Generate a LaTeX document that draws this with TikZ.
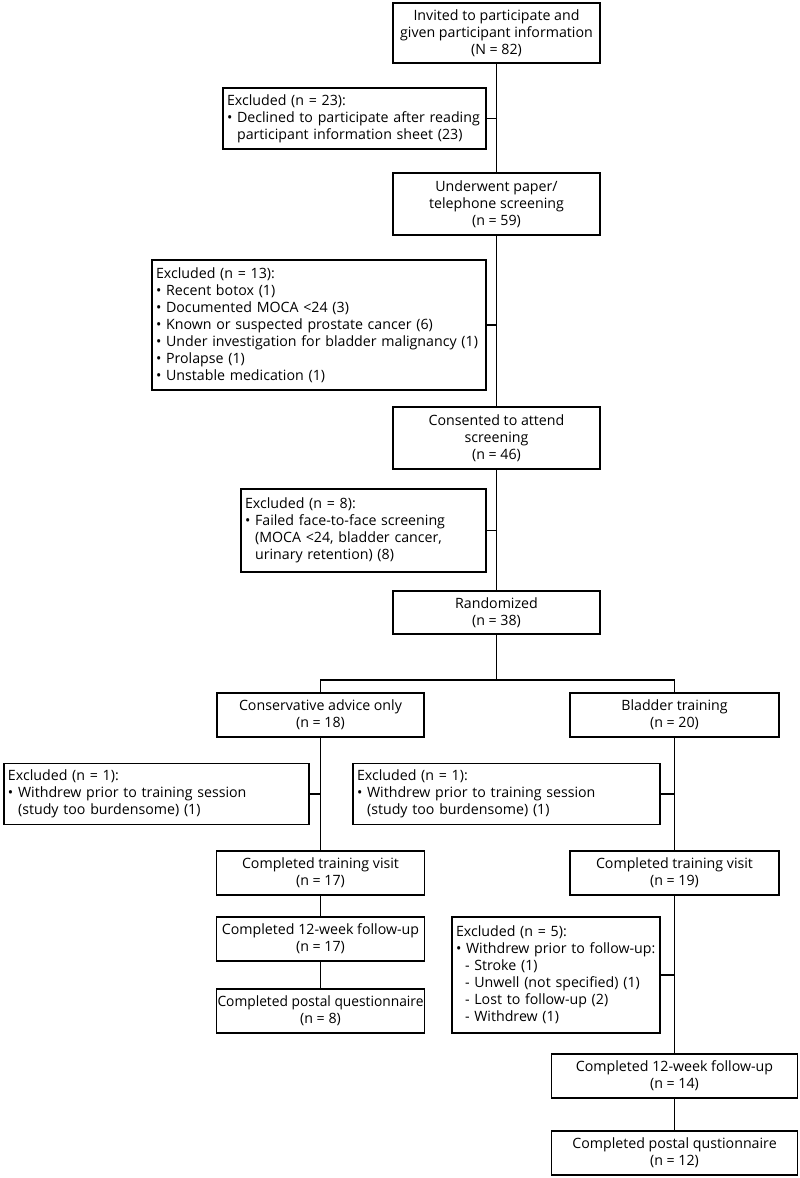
\documentclass[tikz,border=0pt]{standalone}
\usepackage{fontspec}
\setmainfont{Open Sans}
\begin{document}
\begin{tikzpicture}[x=1pt,y=-1pt,
  every node/.style={font=\fontsize{14.2}{17}\selectfont},
  mbox/.style={draw,line width=1.2pt,inner sep=0pt,align=center},
  xbox/.style={draw,line width=1.2pt,inner xsep=4pt,inner ysep=0pt,align=left},
  conn/.style={line width=1.2pt}]
\useasboundingbox (0,0) rectangle (800,1178);
\newcommand{\bul}{\textbullet\ }
\newcommand{\ind}{\phantom{\textbullet\ }}
% main column
\node[mbox,minimum width=207,minimum height=60] (b1) at (496.5,33) {Invited to participate and\\given participant information\\(N = 82)};
\node[xbox,text width=255,minimum height=61] (e23) at (354.5,118.5) {Excluded (n = 23):\\\bul Declined to participate after reading\\\ind participant information sheet (23)};
\node[mbox,minimum width=207,minimum height=62] (b2) at (496.5,204) {Underwent paper/\\telephone screening\\(n = 59)};
\node[xbox,text width=326,minimum height=130] (e13) at (319,325) {Excluded (n = 13):\\\bul Recent botox (1)\\\bul Documented MOCA <24 (3)\\\bul Known or suspected prostate cancer (6)\\\bul Under investigation for bladder malignancy (1)\\\bul Prolapse (1)\\\bul Unstable medication (1)};
\node[mbox,minimum width=207,minimum height=62] (b3) at (496.5,438) {Consented to attend\\screening\\(n = 46)};
\node[xbox,text width=237,minimum height=83] (e8) at (363.5,530.5) {Excluded (n = 8):\\\bul Failed face-to-face screening\\\ind (MOCA <24, bladder cancer,\\\ind urinary retention) (8)};
\node[mbox,minimum width=207,minimum height=43] (rand) at (496.5,612.5) {Randomized\\(n = 38)};
\coordinate (br) at (496.5,680);
% arms
\node[mbox,minimum width=207,minimum height=44] (cons) at (320.5,715) {Conservative advice only\\(n = 18)};
\node[mbox,minimum width=209,minimum height=44] (blad) at (674.5,715) {Bladder training\\(n = 20)};
\node[xbox,text width=297,minimum height=61] (exL) at (156.5,794) {Excluded (n = 1):\\\bul Withdrew prior to training session\\\ind (study too burdensome) (1)};
\node[xbox,text width=299,minimum height=61] (exR) at (506.5,794) {Excluded (n = 1):\\\bul Withdrew prior to training session\\\ind (study too burdensome) (1)};
\node[mbox,minimum width=208,minimum height=44] (trL) at (320.5,873) {Completed training visit\\(n = 17)};
\node[mbox,minimum width=209,minimum height=44] (trR) at (674.5,873) {Completed training visit\\(n = 19)};
\node[mbox,minimum width=208,minimum height=44] (fuL) at (320.5,939) {Completed 12-week follow-up\\(n = 17)};
\node[mbox,minimum width=208,minimum height=44] (poL) at (320.5,1011) {\scalebox{0.97}[1]{Completed postal questionnaire}\\(n = 8)};
\node[xbox,text width=200,minimum height=116] (ex5) at (556,975) {Excluded (n = 5):\\\bul Withdrew prior to follow-up:\\\hspace*{9pt}- Stroke (1)\\\hspace*{9pt}- Unwell (not specified) (1)\\\hspace*{9pt}- Lost to follow-up (2)\\\hspace*{9pt}- Withdrew (1)};
\node[mbox,minimum width=246,minimum height=44] (fuR) at (674.5,1076) {Completed 12-week follow-up\\(n = 14)};
\node[mbox,minimum width=246,minimum height=44] (poR) at (674.5,1153) {Completed postal qustionnaire\\(n = 12)};
% connectors
\draw[conn] (b1.south) -- (b2.north);
\draw[conn] (e23.east) -- (e23.east -| b1.south);
\draw[conn] (b2.south) -- (b3.north);
\draw[conn] (e13.east) -- (e13.east -| b2.south);
\draw[conn] (b3.south) -- (rand.north);
\draw[conn] (e8.east) -- (e8.east -| b3.south);
\draw[conn] (rand.south) -- (br);
\draw[conn] (cons.north) |- (br) -| (blad.north);
\draw[conn] (cons.south) -- (trL.north);
\draw[conn] (exL.east) -- (exL.east -| cons.south);
\draw[conn] (blad.south) -- (trR.north);
\draw[conn] (exR.east) -- (exR.east -| blad.south);
\draw[conn] (trL.south) -- (fuL.north);
\draw[conn] (fuL.south) -- (poL.north);
\draw[conn] (trR.south) -- (fuR.north);
\draw[conn] (ex5.east) -- (ex5.east -| trR.south);
\draw[conn] (fuR.south) -- (poR.north);
\end{tikzpicture}
\end{document}
